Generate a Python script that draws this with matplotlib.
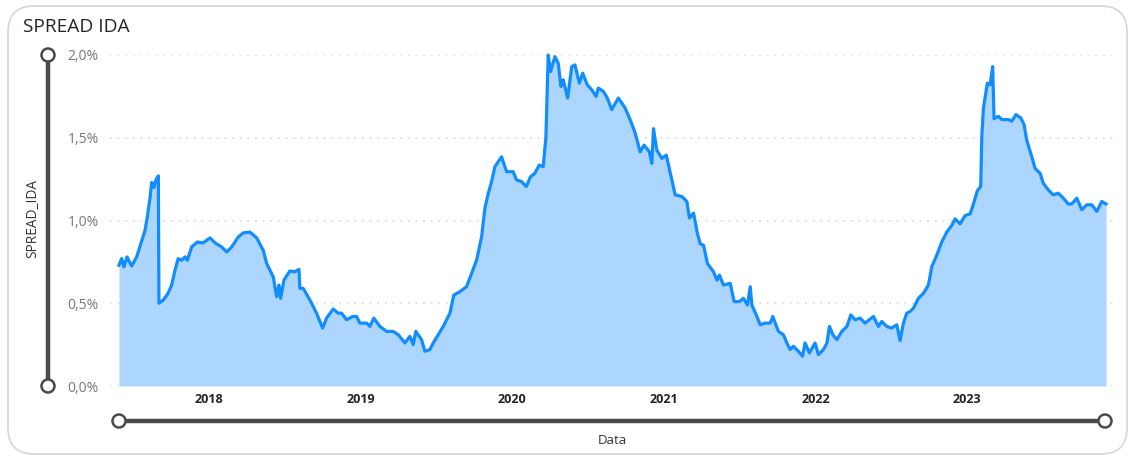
import numpy as np
import pandas as pd
import matplotlib
matplotlib.use("Agg")
import matplotlib.pyplot as plt
import matplotlib.dates as mdates
from matplotlib.patches import FancyBboxPatch, Circle

plt.rcParams['font.family'] = ['Open Sans', 'DejaVu Sans']

# data: decimal year and spread (%)
anos = [
    2017.406, 2017.424, 2017.439, 2017.459, 2017.490, 2017.523, 2017.578, 2017.593,
    2017.611, 2017.622, 2017.637, 2017.650, 2017.666, 2017.670, 2017.699, 2017.730,
    2017.754, 2017.776, 2017.797, 2017.820, 2017.842, 2017.857, 2017.886, 2017.923,
    2017.962, 2018.007, 2018.040, 2018.084, 2018.117, 2018.150, 2018.193, 2018.226,
    2018.270, 2018.315, 2018.358, 2018.381, 2018.424, 2018.447, 2018.462, 2018.473,
    2018.495, 2018.534, 2018.567, 2018.594, 2018.600, 2018.622, 2018.666, 2018.710,
    2018.750, 2018.776, 2018.820, 2018.853, 2018.875, 2018.908, 2018.948, 2018.974,
    2018.996, 2019.040, 2019.062, 2019.088, 2019.128, 2019.172, 2019.216, 2019.249,
    2019.293, 2019.326, 2019.348, 2019.365, 2019.403, 2019.425, 2019.458, 2019.480,
    2019.513, 2019.546, 2019.590, 2019.616, 2019.656, 2019.700, 2019.733, 2019.766,
    2019.799, 2019.821, 2019.842, 2019.865, 2019.887, 2019.931, 2019.964, 2020.007,
    2020.030, 2020.063, 2020.094, 2020.122, 2020.150, 2020.179, 2020.205, 2020.223,
    2020.238, 2020.254, 2020.282, 2020.304, 2020.322, 2020.337, 2020.366, 2020.393,
    2020.414, 2020.443, 2020.465, 2020.495, 2020.524, 2020.553, 2020.568, 2020.601,
    2020.627, 2020.656, 2020.700, 2020.744, 2020.777, 2020.810, 2020.843, 2020.869,
    2020.904, 2020.920, 2020.931, 2020.953, 2020.986, 2021.015, 2021.052, 2021.074,
    2021.118, 2021.151, 2021.168, 2021.195, 2021.221, 2021.239, 2021.261, 2021.287,
    2021.327, 2021.349, 2021.366, 2021.392, 2021.437, 2021.463, 2021.498, 2021.524,
    2021.551, 2021.569, 2021.580, 2021.613, 2021.635, 2021.668, 2021.701, 2021.718,
    2021.755, 2021.788, 2021.811, 2021.832, 2021.854, 2021.887, 2021.914, 2021.931,
    2021.960, 2021.997, 2022.019, 2022.052, 2022.075, 2022.092, 2022.114, 2022.141,
    2022.174, 2022.207, 2022.233, 2022.261, 2022.294, 2022.327, 2022.382, 2022.415,
    2022.437, 2022.470, 2022.503, 2022.536, 2022.558, 2022.580, 2022.602, 2022.624,
    2022.646, 2022.679, 2022.712, 2022.745, 2022.767, 2022.800, 2022.833, 2022.866,
    2022.899, 2022.921, 2022.954, 2022.987, 2023.020, 2023.042, 2023.068, 2023.090,
    2023.097, 2023.108, 2023.134, 2023.152, 2023.169, 2023.178, 2023.206, 2023.229,
    2023.272, 2023.295, 2023.323, 2023.354, 2023.376, 2023.394, 2023.427, 2023.449,
    2023.482, 2023.503, 2023.536, 2023.569, 2023.602, 2023.635, 2023.668, 2023.691,
    2023.724, 2023.757, 2023.790, 2023.823, 2023.856, 2023.889, 2023.917,
]
spread = [
    0.73, 0.77, 0.72, 0.78, 0.725, 0.78, 0.94, 1.02,
    1.135, 1.23, 1.20, 1.245, 1.27, 0.50, 0.52, 0.56,
    0.61, 0.70, 0.77, 0.76, 0.78, 0.76, 0.84, 0.87,
    0.865, 0.895, 0.865, 0.84, 0.81, 0.84, 0.90, 0.925,
    0.93, 0.895, 0.82, 0.74, 0.66, 0.54, 0.61, 0.53,
    0.64, 0.695, 0.69, 0.705, 0.59, 0.59, 0.52, 0.44,
    0.35, 0.41, 0.465, 0.44, 0.44, 0.40, 0.42, 0.42,
    0.38, 0.38, 0.36, 0.41, 0.36, 0.33, 0.33, 0.31,
    0.26, 0.30, 0.25, 0.33, 0.28, 0.21, 0.22, 0.26,
    0.31, 0.36, 0.44, 0.55, 0.57, 0.60, 0.68, 0.76,
    0.90, 1.075, 1.16, 1.235, 1.325, 1.385, 1.295, 1.295,
    1.245, 1.235, 1.205, 1.265, 1.285, 1.335, 1.325, 1.505,
    2.00, 1.90, 1.99, 1.95, 1.81, 1.85, 1.74, 1.93,
    1.94, 1.83, 1.89, 1.82, 1.79, 1.75, 1.80, 1.78,
    1.74, 1.67, 1.74, 1.68, 1.61, 1.53, 1.415, 1.455,
    1.415, 1.345, 1.555, 1.425, 1.375, 1.395, 1.245, 1.155,
    1.145, 1.115, 1.015, 1.045, 0.92, 0.86, 0.85, 0.74,
    0.69, 0.64, 0.67, 0.61, 0.62, 0.51, 0.51, 0.53,
    0.49, 0.60, 0.49, 0.42, 0.37, 0.38, 0.38, 0.42,
    0.33, 0.31, 0.26, 0.22, 0.24, 0.21, 0.18, 0.26,
    0.20, 0.26, 0.19, 0.22, 0.26, 0.36, 0.31, 0.28,
    0.33, 0.36, 0.43, 0.40, 0.41, 0.38, 0.42, 0.36,
    0.39, 0.36, 0.35, 0.37, 0.275, 0.38, 0.44, 0.45,
    0.47, 0.53, 0.56, 0.61, 0.72, 0.79, 0.87, 0.93,
    0.97, 1.01, 0.98, 1.03, 1.04, 1.10, 1.18, 1.205,
    1.505, 1.68, 1.83, 1.82, 1.93, 1.615, 1.63, 1.61,
    1.61, 1.60, 1.64, 1.62, 1.58, 1.485, 1.385, 1.315,
    1.285, 1.225, 1.185, 1.155, 1.165, 1.135, 1.10, 1.10,
    1.135, 1.065, 1.095, 1.095, 1.055, 1.115, 1.10,
]
yticks = [0.0, 0.5, 1.0, 1.5, 2.0]
ytick_labels = ['0,0%', '0,5%', '1,0%', '1,5%', '2,0%']
anos_ticks = [2018, 2019, 2020, 2021, 2022, 2023]


def to_date(t):
    y = int(np.floor(t))
    ini = pd.Timestamp(y, 1, 1)
    fim = pd.Timestamp(y + 1, 1, 1)
    return ini + (fim - ini) * (t - y)


datas = [to_date(t) for t in anos]

W, H = 1130, 459
fig = plt.figure(figsize=(W / 100, H / 100), dpi=100)

# background layer in pixel coords: card border, sliders, labels
bg = fig.add_axes([0, 0, 1, 1], zorder=0)
bg.set_xlim(0, W)
bg.set_ylim(H, 0)
bg.axis('off')
bg.add_patch(FancyBboxPatch((8, 6), 1119, 448, boxstyle="round,pad=0,rounding_size=26",
                            fc='white', ec='#d6d6d6', lw=1.2))
slider_c = '#4a4a4a'
bg.plot([48, 48], [55, 386], color=slider_c, lw=3.2, solid_capstyle='butt')
bg.plot([119, 1105], [421, 421], color=slider_c, lw=3.2, solid_capstyle='butt')
for cx, cy in [(48, 55), (48, 386), (119, 421), (1105, 421)]:
    bg.add_patch(Circle((cx, cy), 6.5, fc='white', ec=slider_c, lw=1.8, zorder=3))
bg.text(23, 27, 'SPREAD IDA', fontsize=13.8, color='#252423', ha='left', va='center')
bg.text(33, 219, 'SPREAD_IDA', fontsize=9.8, color='#333333', rotation=90,
        ha='center', va='center')
bg.text(612, 440, 'Data', fontsize=9.5, color='#333333', ha='center', va='center')

# chart
ax = fig.add_axes([110 / W, 1 - 386 / H, (1113 - 110) / W, (386 - 55) / H], zorder=1)
ax.patch.set_alpha(0)
ax.fill_between(datas, spread, 0, color='#ADD6FF', lw=0)
ax.plot(datas, spread, color='#118DFF', lw=2.3, clip_on=False, solid_joinstyle='round')

ax.set_xlim(to_date(2017.347), to_date(2023.963))
ax.set_ylim(0, 2.0)
ax.set_yticks(yticks)
ax.set_yticklabels(ytick_labels)
ax.set_xticks([pd.Timestamp(a, 1, 1) for a in anos_ticks])
ax.xaxis.set_major_formatter(mdates.DateFormatter('%Y'))
for s in ax.spines.values():
    s.set_visible(False)
ax.tick_params(axis='y', length=0, pad=8, labelsize=10, labelcolor='#777777')
ax.tick_params(axis='x', length=0, pad=5, labelsize=9, labelcolor='#222222')
for lb in ax.get_xticklabels():
    lb.set_fontweight('bold')
ax.grid(axis='y', color='#d4d4d4', lw=1.1, linestyle=(0, (1, 4)))
ax.grid(axis='x', visible=False)
ax.set_axisbelow(True)

fig.savefig('out.png', dpi=100)
